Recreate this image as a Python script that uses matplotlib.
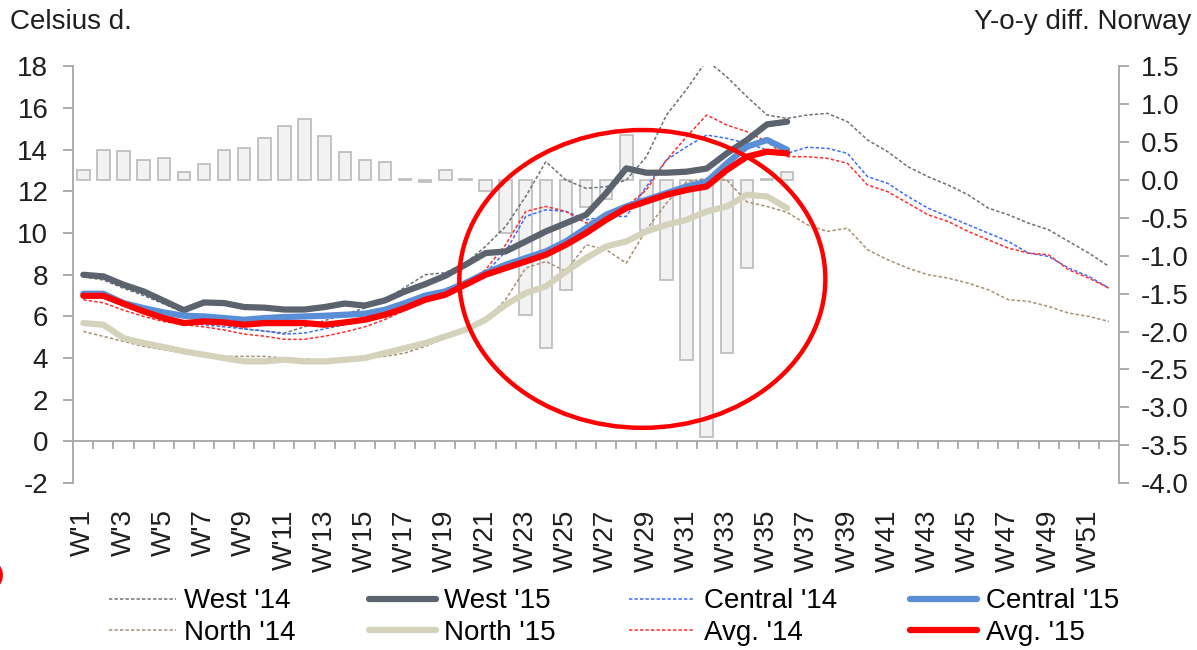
import numpy as np
import matplotlib
matplotlib.use("Agg")
import matplotlib.pyplot as plt
from matplotlib.patches import Ellipse

plt.rcParams["font.family"] = ["Liberation Sans", "DejaVu Sans"]
plt.rcParams["axes.unicode_minus"] = False

# weeks 1..52, labels on odd weeks
weeks = np.arange(1, 53)
weeks_15 = np.arange(1, 37)
label_weeks = np.arange(1, 53, 2)
week_labels = ["W'%d" % w for w in label_weeks]

# 2014 series (full year), Celsius
west_14 = [7.9, 7.75, 7.35, 7.0, 6.6, 6.2, 5.9, 5.6, 5.4, 5.3, 5.2, 5.5, 5.8, 6.1, 6.4, 6.8,
           7.4, 8.0, 8.1, 8.56, 9.36, 10.32, 11.76, 13.43, 12.55, 12.15, 12.23, 12.55, 13.67,
           15.67, 16.9, 18.3, 17.5, 16.55, 15.67, 15.51, 15.67, 15.75, 15.35, 14.47, 13.91,
           13.19, 12.71, 12.31, 11.84, 11.2, 10.88, 10.48, 10.16, 9.6, 9.04, 8.4]
central_14 = [7.0, 6.9, 6.5, 6.2, 5.9, 5.7, 5.6, 5.5, 5.4, 5.3, 5.15, 5.2, 5.4, 5.6, 5.9, 6.2,
              6.6, 7.0, 7.3, 7.7, 8.08, 9.12, 10.8, 11.12, 11.04, 10.64, 10.8, 10.8, 12.23,
              13.51, 14.15, 14.71, 14.55, 14.31, 13.99, 13.83, 14.12, 14.07, 13.83, 12.71,
              12.39, 11.76, 11.2, 10.8, 10.4, 10.0, 9.6, 9.04, 8.88, 8.32, 7.92, 7.36]
north_14 = [5.28, 5.04, 4.8, 4.56, 4.4, 4.24, 4.16, 4.08, 4.08, 4.08, 4.0, 3.95, 3.9, 3.95,
            4.0, 4.08, 4.24, 4.56, 4.96, 5.28, 5.84, 6.8, 8.32, 8.64, 8.16, 9.44, 9.2, 8.56,
            10.16, 11.44, 12.47, 12.63, 12.55, 11.5, 11.28, 11.0, 10.4, 10.08, 10.24, 9.2,
            8.72, 8.32, 8.0, 7.84, 7.6, 7.28, 6.8, 6.72, 6.48, 6.16, 6.0, 5.76]
avg_14 = [6.8, 6.65, 6.3, 6.0, 5.75, 5.6, 5.5, 5.35, 5.15, 5.05, 4.9, 4.9, 5.05, 5.25, 5.5,
          5.85, 6.3, 6.8, 7.2, 7.6, 8.24, 9.44, 11.04, 11.28, 11.04, 10.48, 10.8, 11.28, 12.07,
          13.51, 14.63, 15.67, 15.19, 14.87, 14.39, 13.67, 13.67, 13.59, 13.35, 12.31, 11.99,
          11.44, 10.88, 10.56, 10.08, 9.68, 9.28, 9.04, 8.96, 8.24, 7.84, 7.36]

# 2015 series (to week 36)
west_15 = [8.0, 7.92, 7.52, 7.2, 6.75, 6.3, 6.67, 6.64, 6.45, 6.42, 6.33, 6.33, 6.45, 6.62,
           6.52, 6.77, 7.2, 7.55, 7.95, 8.48, 9.04, 9.12, 9.6, 10.08, 10.48, 10.88, 11.92,
           13.11, 12.9, 12.9, 12.95, 13.1, 13.83, 14.47, 15.22, 15.35]
central_15 = [7.09, 7.09, 6.64, 6.4, 6.19, 6.03, 6.0, 5.92, 5.84, 5.92, 5.97, 6.0, 6.03, 6.08,
              6.13, 6.32, 6.64, 7.0, 7.2, 7.6, 8.08, 8.48, 8.8, 9.12, 9.6, 10.24, 10.88, 11.28,
              11.6, 11.92, 12.24, 12.47, 13.35, 14.15, 14.47, 14.0]
north_15 = [5.68, 5.6, 4.96, 4.72, 4.53, 4.32, 4.16, 4.0, 3.84, 3.84, 3.92, 3.84, 3.84, 3.92,
            4.0, 4.24, 4.48, 4.72, 5.04, 5.36, 5.84, 6.56, 7.12, 7.44, 8.16, 8.8, 9.36, 9.6,
            10.08, 10.4, 10.64, 11.04, 11.28, 11.84, 11.76, 11.2]
avg_15 = [6.99, 6.99, 6.61, 6.24, 5.92, 5.68, 5.76, 5.71, 5.6, 5.68, 5.68, 5.68, 5.6, 5.71,
          5.84, 6.08, 6.4, 6.8, 7.04, 7.52, 8.0, 8.32, 8.64, 8.96, 9.44, 10.0, 10.64, 11.2,
          11.52, 11.84, 12.07, 12.24, 13.03, 13.67, 13.91, 13.83]

# y-o-y difference Norway (right axis)
yoy_diff = [0.13, 0.40, 0.38, 0.26, 0.29, 0.11, 0.21, 0.40, 0.42, 0.55, 0.71, 0.81, 0.58, 0.37,
            0.26, 0.24, 0.02, -0.03, 0.13, 0.02, -0.15, -0.70, -1.78, -2.22, -1.45, -0.35,
            -0.25, 0.59, -0.66, -1.32, -2.38, -3.39, -2.28, -1.16, 0.02, 0.11]

left_ticks = np.arange(-2, 19, 2)
right_ticks = np.arange(-4.0, 1.51, 0.5)

# highlight ellipse (week, celsius)
ellipse_center = (28.8, 7.8)
ellipse_size = (18.2, 14.3)

AXIS_GREY = "#a6a6a6"
TEXT = "#1f1f1f"
FS = 20

fig = plt.figure(figsize=(11.97, 6.5), dpi=100)
ax = fig.add_axes([0.0612, 0.2569, 0.8736, 0.6408])
ax2 = ax.twinx()
ax.set_zorder(ax2.get_zorder() + 1)
ax.patch.set_visible(False)

# bars on the right scale
ax2.bar(weeks_15, yoy_diff, width=0.62, color="#f2f2f2", edgecolor="#bfbfbf", linewidth=1.3)
ax2.set_ylim(-4.0, 1.5)
ax2.set_yticks(right_ticks)
ax2.set_yticklabels(["%.1f" % t for t in right_ticks])

# lines on the left scale
dash = (2.2, 1.4)
ax.plot(weeks, west_14, color="#6e7178", lw=1.1, dashes=dash, label="West '14")
ax.plot(weeks, north_14, color="#a8916f", lw=1.1, dashes=dash, label="North '14")
ax.plot(weeks, central_14, color="#3d6bff", lw=1.1, dashes=dash, label="Central '14")
ax.plot(weeks, avg_14, color="#ff2b2b", lw=1.1, dashes=dash, label="Avg. '14")
ax.plot(weeks_15, north_15, color="#d5d2bc", lw=4.5, solid_capstyle="round", label="North '15")
ax.plot(weeks_15, west_15, color="#5b636e", lw=4.5, solid_capstyle="round", label="West '15")
ax.plot(weeks_15, central_15, color="#5a8fd8", lw=4.5, solid_capstyle="round", label="Central '15")
ax.plot(weeks_15, avg_15, color="#ff0000", lw=4.5, solid_capstyle="round", label="Avg. '15")

ax.set_xlim(0.5, 52.5)
ax.set_ylim(-2, 18)
ax.set_yticks(left_ticks)

# category axis drawn at zero with ticks between weeks
ax.axhline(0, color=AXIS_GREY, lw=1.3, zorder=1)
ax.vlines(np.arange(1.5, 52.5, 1.0), -0.38, 0, color=AXIS_GREY, lw=1.3, zorder=1)
ax.set_xticks(label_weeks)
ax.set_xticklabels(week_labels, rotation=90)
ax.tick_params(axis="x", length=0, pad=19, labelsize=FS, labelcolor=TEXT)

for a in (ax, ax2):
    for s in ("top", "bottom"):
        a.spines[s].set_visible(False)
ax.spines["right"].set_visible(False)
ax2.spines["left"].set_visible(False)
ax.spines["left"].set_color(AXIS_GREY)
ax.spines["left"].set_linewidth(1.3)
ax2.spines["right"].set_color(AXIS_GREY)
ax2.spines["right"].set_linewidth(1.3)
ax.tick_params(axis="y", length=7, width=1.3, color=AXIS_GREY, pad=11, labelsize=FS,
               labelcolor=TEXT)
ax2.tick_params(axis="y", length=7, width=1.3, color=AXIS_GREY, pad=9, labelsize=FS,
                labelcolor=TEXT)

ax.add_patch(Ellipse(ellipse_center, ellipse_size[0], ellipse_size[1], fill=False,
                     edgecolor="red", lw=3.2, clip_on=False, zorder=5))

fig.text(0.008, 0.966, "Celsius d.", ha="left", va="center", fontsize=FS, color=TEXT)
fig.text(0.995, 0.966, "Y-o-y diff. Norway", ha="right", va="center", fontsize=FS, color=TEXT)

# red sliver at left edge
fig.add_artist(Ellipse((-0.014, 0.115), 0.03, 0.05, transform=fig.transFigure, fill=False,
                       edgecolor="red", lw=2.5))

handles, labels = ax.get_legend_handles_labels()
order = ["West '14", "North '14", "West '15", "North '15",
         "Central '14", "Avg. '14", "Central '15", "Avg. '15"]
hmap = dict(zip(labels, handles))
fig.legend([hmap[k] for k in order], order, ncol=4, loc="center",
           bbox_to_anchor=(0.513, 0.0505), frameon=False, fontsize=FS,
           handlelength=2.4, handletextpad=0.32, columnspacing=2.62, labelspacing=0.2,
           borderpad=0.1)

fig.savefig("out.png", dpi=100)
